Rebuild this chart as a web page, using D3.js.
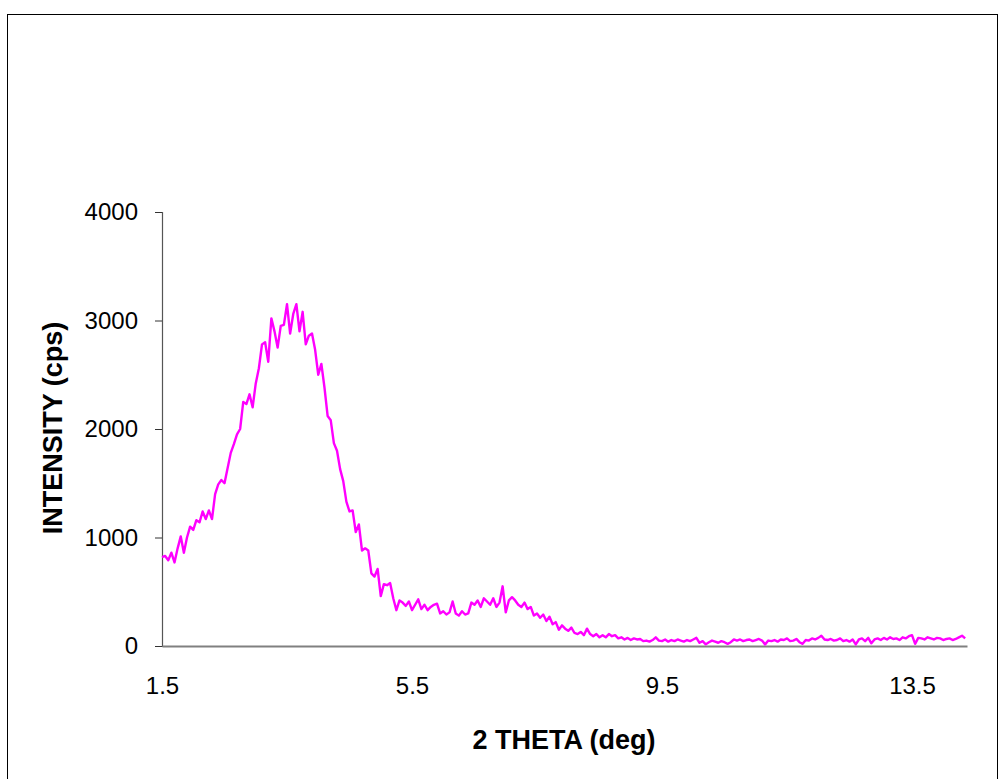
<!DOCTYPE html>
<html>
<head>
<meta charset="utf-8">
<script src="https://cdn.jsdelivr.net/npm/d3@7/dist/d3.min.js"></script>
<style>
  html, body { margin: 0; padding: 0; background: #fff; }
  svg { display: block; }
  text { font-family: "Liberation Sans", Arial, sans-serif; }
</style>
</head>
<body>
<svg id="chart" width="999" height="779"></svg>
<script>
// Scan start and step (degrees 2θ)
const thetaStart = 1.5;
const thetaStep = 0.05;

// Measured intensity (cps), one value per step
const intensity = [
  820, 830, 790, 860, 770, 900, 1010, 860, 1000, 1100,
  1070, 1160, 1140, 1240, 1170, 1250, 1170, 1400, 1490, 1530,
  1500, 1640, 1780, 1860, 1950, 2000, 2250, 2230, 2320, 2200,
  2420, 2560, 2780, 2800, 2620, 3020, 2900, 2750, 2950, 2960,
  3150, 2880, 3060, 3150, 2900, 3080, 2780, 2860, 2880, 2730,
  2500, 2600, 2380, 2120, 2080, 1870, 1800, 1630, 1520, 1330,
  1240, 1250, 1050, 1120, 880, 900, 880, 670, 640, 710,
  460, 570, 560, 580, 440, 330, 420, 400, 370, 410,
  330, 380, 430, 340, 380, 330, 360, 380, 390, 300,
  320, 290, 310, 410, 300, 280, 320, 290, 300, 400,
  380, 420, 360, 440, 410, 380, 440, 360, 400, 550,
  310, 420, 450, 420, 380, 360, 400, 340, 360, 280,
  300, 260, 290, 230, 270, 200, 220, 150, 190, 160,
  140, 170, 120, 110, 130, 100, 160, 110, 90, 110,
  80, 100, 80, 110, 90, 100, 70, 80, 60, 75,
  55, 70, 60, 65, 45, 50, 40, 55, 80, 50,
  45, 60, 40, 55, 45, 60, 50, 40, 55, 45,
  60, 75, 30, 45, 15, 35, 50, 40, 30, 45,
  35, 20, 35, 60, 50, 60, 45, 55, 60, 45,
  55, 65, 50, 15, 50, 45, 55, 40, 60, 55,
  70, 45, 50, 65, 35, 20, 55, 50, 70, 60,
  75, 95, 60, 55, 65, 50, 55, 70, 45, 55,
  40, 60, 15, 60, 70, 45, 75, 25, 60, 70,
  55, 75, 60, 80, 65, 70, 55, 80, 70, 90,
  100, 20, 75, 70, 60, 80, 70, 60, 75, 70,
  55, 65, 70, 55, 65, 80, 95, 70
];

// Axis tick values
const xTicks = [1.5, 5.5, 9.5, 13.5];
const yTicks = [0, 1000, 2000, 3000, 4000];

const xTitle = "2 THETA (deg)";
const yTitle = "INTENSITY (cps)";

const data = intensity.map((v, i) => ({ theta: thetaStart + i * thetaStep, v }));

const svg = d3.select("#chart");

// Outer frame
svg.append("rect")
  .attr("x", 7.5).attr("y", 14.5)
  .attr("width", 990).attr("height", 780)
  .attr("fill", "none").attr("stroke", "#000").attr("stroke-width", 1);

const x = d3.scaleLinear().domain([1.5, 14.38]).range([162, 967]);
const y = d3.scaleLinear().domain([0, 4000]).range([646, 212]);

// Y axis
const yAxis = svg.append("g")
  .attr("transform", "translate(162,0)")
  .call(d3.axisLeft(y).tickValues(yTicks).tickSize(7).tickPadding(17).tickFormat(d3.format("d")));
yAxis.select(".domain").attr("stroke", "#555").attr("stroke-width", 1.2);
yAxis.selectAll(".tick line").attr("stroke", "#333");
yAxis.selectAll("text")
  .attr("font-size", 24).attr("fill", "#000")
  .attr("font-family", "'Liberation Sans', Arial, sans-serif");

// X axis
const xAxis = svg.append("g")
  .attr("transform", "translate(0,646)")
  .call(d3.axisBottom(x).tickValues(xTicks).tickSize(0).tickPadding(31).tickFormat(d3.format(".1f")));
xAxis.select(".domain").attr("stroke", "#808080").attr("stroke-width", 2);
xAxis.selectAll("text")
  .attr("font-size", 24).attr("fill", "#000")
  .attr("font-family", "'Liberation Sans', Arial, sans-serif");

// Axis titles
svg.append("text")
  .attr("x", 564).attr("y", 749)
  .attr("text-anchor", "middle")
  .attr("font-size", 27).attr("font-weight", "bold")
  .text(xTitle);

svg.append("text")
  .attr("transform", "translate(62,428) rotate(-90)")
  .attr("text-anchor", "middle")
  .attr("font-size", 27).attr("font-weight", "bold")
  .text(yTitle);

// Diffraction pattern
const line = d3.line()
  .x(d => x(d.theta))
  .y(d => y(d.v));

svg.append("path")
  .datum(data)
  .attr("fill", "none")
  .attr("stroke", "#FF00FF")
  .attr("stroke-width", 2.4)
  .attr("stroke-linejoin", "round")
  .attr("d", line);
</script>
</body>
</html>
